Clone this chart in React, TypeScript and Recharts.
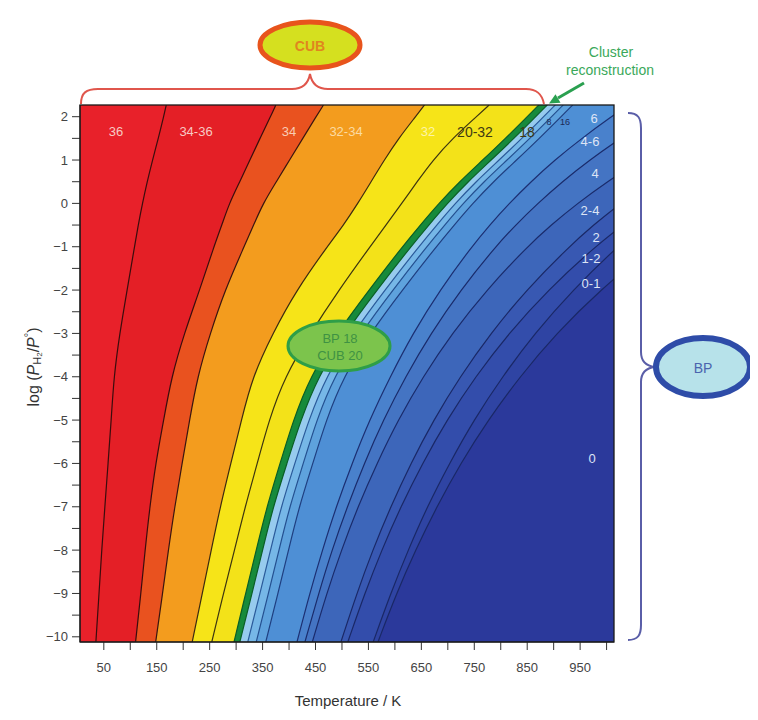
import React from 'react';
import { ComposedChart, Area, XAxis, YAxis, CartesianGrid } from 'recharts';

// rows: log(P_H2/P°)
const LOG_P = [2.27, 2, 1.5, 1, 0.5, 0, -0.5, -1, -2, -3, -4, -5, -6, -7, -8, -9, -10.12];

// phase boundary temperatures (K) read at each LOG_P row, from left to right
const T_36_3436 = [168, 163, 153, 142, 132, 123, 115, 108, 94, 80, 69, 64, 58, 52, 46, 41, 35];
const T_3436_34 = [375, 365, 345, 326, 307, 287, 273, 258, 231, 202, 178, 163, 148, 137, 128, 120, 110];
const T_34_3234 = [465, 451, 426, 401, 376, 351, 333, 315, 279, 251, 227, 212, 198, 184, 172, 161, 148];
const T_3234_32 = [656, 639, 607, 580, 555, 530, 503, 472, 414, 369, 331, 310, 290, 270, 253, 236, 217];
const T_32_2032 = [778, 754, 709, 672, 642, 613, 583, 553, 494, 440, 392, 362, 340, 317, 297, 276, 254];
const T_18_GREEN = [872, 850, 809, 766, 722, 683, 648, 614, 551, 490, 440, 408, 383, 358, 338, 318, 296];
const T_GREEN_16 = [888, 866, 825, 782, 738, 699, 664, 630, 566, 505, 455, 422, 396, 370, 350, 330, 307];
const T_16_12 = [903, 881, 840, 797, 753, 714, 679, 645, 581, 520, 470, 437, 411, 385, 365, 345, 322];
const T_12_8 = [918, 896, 855, 812, 768, 729, 694, 660, 596, 535, 485, 452, 427, 401, 381, 361, 338];
const T_8_6 = [936, 914, 873, 830, 786, 747, 712, 678, 614, 553, 503, 470, 445, 419, 399, 379, 356];
const T_6_46 = [1042, 1009, 953, 902, 857, 816, 779, 745, 685, 634, 591, 552, 519, 489, 463, 439, 415];
const T_46_4 = [1129, 1091, 1026, 968, 916, 870, 828, 790, 724, 668, 620, 578, 542, 510, 481, 456, 430];
const T_4_24 = [1266, 1217, 1135, 1064, 1001, 945, 895, 850, 773, 708, 653, 606, 566, 530, 499, 471, 444];
const T_24_2 = [1346, 1298, 1217, 1146, 1083, 1026, 975, 929, 848, 781, 723, 673, 630, 592, 558, 528, 498];
const T_2_12 = [1455, 1398, 1305, 1223, 1151, 1087, 1030, 978, 889, 815, 752, 698, 652, 611, 575, 543, 511];
const T_12_01 = [1475, 1420, 1319, 1246, 1181, 1122, 1069, 1020, 936, 864, 803, 749, 703, 661, 625, 592, 559];
const T_01_0 = [1614, 1552, 1448, 1358, 1278, 1207, 1143, 1086, 988, 905, 836, 776, 724, 679, 639, 603, 568];

const T_TICKS = [50, 100, 150, 200, 250, 300, 350, 400, 450, 500, 550, 600, 650, 700, 750, 800, 850, 900, 950, 1000];
const T_LABELLED = [50, 150, 250, 350, 450, 550, 650, 750, 850, 950];
const LOGP_TICKS = [-10, -9.5, -9, -8.5, -8, -7.5, -7, -6.5, -6, -5.5, -5, -4.5, -4, -3.5, -3, -2.5, -2, -1.5, -1, -0.5, 0, 0.5, 1, 1.5, 2];

const BOUNDARIES: { key: string; values: number[] }[] = [
  { key: 'b01_0', values: T_01_0 },
  { key: 'b12_01', values: T_12_01 },
  { key: 'b2_12', values: T_2_12 },
  { key: 'b24_2', values: T_24_2 },
  { key: 'b4_24', values: T_4_24 },
  { key: 'b46_4', values: T_46_4 },
  { key: 'b6_46', values: T_6_46 },
  { key: 'b8_6', values: T_8_6 },
  { key: 'b12_8', values: T_12_8 },
  { key: 'b16_12', values: T_16_12 },
  { key: 'bG_16', values: T_GREEN_16 },
  { key: 'b18_G', values: T_18_GREEN },
  { key: 'b32_2032', values: T_32_2032 },
  { key: 'b3234_32', values: T_3234_32 },
  { key: 'b34_3234', values: T_34_3234 },
  { key: 'b3436_34', values: T_3436_34 },
  { key: 'b36_3436', values: T_36_3436 },
];

// fill = colour of the region on the left of each boundary
const STYLE: Record<string, { fill: string; stroke: string }> = {
  b01_0: { fill: '#2f44a3', stroke: '#1a2866' },
  b12_01: { fill: '#334dab', stroke: '#1a2866' },
  b2_12: { fill: '#3858b2', stroke: '#1a2866' },
  b24_2: { fill: '#3d66ba', stroke: '#1a2866' },
  b4_24: { fill: '#4474c3', stroke: '#1a2b6b' },
  b46_4: { fill: '#4981cc', stroke: '#1a2b6b' },
  b6_46: { fill: '#4e8fd5', stroke: '#1c2f72' },
  b8_6: { fill: '#5ea2dd', stroke: '#1f3f80' },
  b12_8: { fill: '#76b7e7', stroke: '#245090' },
  b16_12: { fill: '#97cbee', stroke: '#2a5a9a' },
  bG_16: { fill: '#168a3b', stroke: '#0b5e26' },
  b18_G: { fill: '#f3e219', stroke: '#0b5e26' },
  b32_2032: { fill: '#f6e418', stroke: '#3c3510' },
  b3234_32: { fill: '#f39c1e', stroke: '#3c2a10' },
  b34_3234: { fill: '#e9521f', stroke: '#3a1510' },
  b3436_34: { fill: '#e41f26', stroke: '#3a0d0d' },
  b36_3436: { fill: '#e8212a', stroke: '#3a0d0d' },
};

const rows = LOG_P.map((logP, i) => {
  const r: Record<string, number> = { logP };
  BOUNDARIES.forEach((b) => {
    r[b.key] = b.values[i];
  });
  return r;
});

const FONT = '"Liberation Sans", Arial, sans-serif';

const REGION_LABELS: { text: string; x: number; y: number; fill: string; size?: number }[] = [
  { text: '36', x: 116, y: 131, fill: '#f7c9c3' },
  { text: '34-36', x: 196, y: 131, fill: '#f7c9c3' },
  { text: '34', x: 289, y: 131, fill: '#f8ccb4' },
  { text: '32-34', x: 346, y: 131, fill: '#fbdba2' },
  { text: '32', x: 428, y: 131, fill: '#fdf4a6' },
  { text: '20-32', x: 475, y: 132, fill: '#3f3a12', size: 14 },
  { text: '18', x: 527, y: 132, fill: '#3f3a12', size: 14 },
  { text: '8', x: 549, y: 122, fill: '#1d2a55', size: 9 },
  { text: '16', x: 565, y: 122, fill: '#1d2a55', size: 9 },
  { text: '6', x: 594, y: 118, fill: '#dde4f5' },
  { text: '4-6', x: 590, y: 141, fill: '#dde4f5' },
  { text: '4', x: 595, y: 173, fill: '#dde4f5' },
  { text: '2-4', x: 590, y: 210, fill: '#dde4f5' },
  { text: '2', x: 596, y: 237, fill: '#dde4f5' },
  { text: '1-2', x: 591, y: 258, fill: '#dde4f5' },
  { text: '0-1', x: 591, y: 283, fill: '#dde4f5' },
  { text: '0', x: 592, y: 458, fill: '#dde4f5' },
];

const fmtT = (v: number) => (T_LABELLED.includes(v) ? String(v) : '');
const fmtP = (v: number) => (Number.isInteger(v) ? (v < 0 ? '\u2212' + Math.abs(v) : String(v)) : '');

export default function App() {
  return (
    <div style={{ position: 'relative', width: 750, height: 712 }}>
      <ComposedChart
        width={750}
        height={712}
        layout="vertical"
        data={rows}
        margin={{ top: 97, right: 144, bottom: 48, left: 32 }}
      >
        <CartesianGrid horizontal={false} vertical={false} fill="#2b399b" fillOpacity={1} />
        <XAxis
          type="number"
          domain={[5, 1014]}
          allowDataOverflow
          ticks={T_TICKS}
          tickFormatter={fmtT}
          interval={0}
          height={30}
          tickSize={8}
          tickMargin={13}
          axisLine={{ stroke: '#222' }}
          tickLine={{ stroke: '#333' }}
          tick={{ fontSize: 13, fill: '#444', fontFamily: FONT }}
        />
        <YAxis
          type="number"
          dataKey="logP"
          domain={[-10.12, 2.27]}
          reversed
          allowDataOverflow
          ticks={LOGP_TICKS}
          tickFormatter={fmtP}
          interval={0}
          width={40}
          tickSize={8}
          tickMargin={4}
          axisLine={{ stroke: '#222' }}
          tickLine={{ stroke: '#333' }}
          tick={{ fontSize: 13, fill: '#444', fontFamily: FONT }}
        />
        {BOUNDARIES.map((b) => (
          <Area
            key={b.key}
            dataKey={b.key}
            type="basis"
            baseValue="dataMin"
            fill={STYLE[b.key].fill}
            fillOpacity={1}
            stroke={STYLE[b.key].stroke}
            strokeWidth={1.2}
            dot={false}
            activeDot={false}
            isAnimationActive={false}
          />
        ))}
      </ComposedChart>
      <svg
        width={750}
        height={712}
        style={{ position: 'absolute', left: 0, top: 0, pointerEvents: 'none' }}
      >
        <g transform="translate(-8,-8)" fontFamily={FONT}>
          <rect x={80} y={105} width={534} height={537} fill="none" stroke="#1a1a1a" strokeWidth={1.3} />
          {REGION_LABELS.map((l) => (
            <text
              key={l.text + l.x}
              x={l.x}
              y={l.y}
              textAnchor="middle"
              dominantBaseline="central"
              fontSize={l.size ?? 13}
              fill={l.fill}
            >
              {l.text}
            </text>
          ))}
          {/* CUB brace + ellipse */}
          <path
            d="M 81 104 C 81 93, 86 89, 98 89 L 292 89 C 302 89, 308 85, 310 74 C 312 85, 318 89, 328 89 L 526 89 C 537 89, 542 94, 544 104"
            fill="none"
            stroke="#e0564c"
            strokeWidth={2}
          />
          <ellipse cx={310} cy={45} rx={50} ry={23} fill="#d5e01f" stroke="#e8541c" strokeWidth={5} />
          <text x={310} y={46} textAnchor="middle" dominantBaseline="central" fontSize={14} fontWeight="bold" fill="#e0861e">
            CUB
          </text>
          {/* cluster reconstruction */}
          <text x={611} y={52} textAnchor="middle" dominantBaseline="central" fontSize={14} fill="#3aa85a">
            Cluster
          </text>
          <text x={610} y={70} textAnchor="middle" dominantBaseline="central" fontSize={14} fill="#3aa85a">
            reconstruction
          </text>
          <line x1={584} y1={83} x2={558} y2={98} stroke="#2aa050" strokeWidth={3} />
          <polygon points="549,103.5 560.5,102.8 555.5,94.2" fill="#2aa050" />
          {/* BP brace + ellipse */}
          <path
            d="M 628 113 C 638 113, 641 118, 641 128 L 641 352 C 641 361, 646 366, 655 367 C 646 368, 641 373, 641 382 L 641 625 C 641 635, 638 640, 628 640"
            fill="none"
            stroke="#5a5ea8"
            strokeWidth={2}
          />
          <ellipse cx={703} cy={367} rx={47} ry={29} fill="#b7e2ea" stroke="#2e4ca8" strokeWidth={6} />
          <text x={703} y={368} textAnchor="middle" dominantBaseline="central" fontSize={14} fill="#4a64ae">
            BP
          </text>
          {/* BP 18 / CUB 20 */}
          <ellipse cx={339} cy={346} rx={51} ry={25} fill="#7cc44c" stroke="#2e9e48" strokeWidth={3} />
          <text x={340} y={338} textAnchor="middle" dominantBaseline="central" fontSize={13} fill="#3f9243">
            BP  18
          </text>
          <text x={340} y={355} textAnchor="middle" dominantBaseline="central" fontSize={13} fill="#3f9243">
            CUB  20
          </text>
          {/* axis titles */}
          <text x={348} y={700} textAnchor="middle" dominantBaseline="central" fontSize={15} fill="#333">
            Temperature / K
          </text>
          <text
            x={33}
            y={367}
            transform="rotate(-90 33 367)"
            textAnchor="middle"
            dominantBaseline="central"
            fontSize={16}
            fill="#333"
          >
            log (<tspan fontStyle="italic">P</tspan>
            <tspan fontSize={11} dy={4}>H</tspan>
            <tspan fontSize={8} dy={2}>2</tspan>
            <tspan dy={-6}>/</tspan>
            <tspan fontStyle="italic">P</tspan>
            <tspan fontSize={11} dy={-5}>°</tspan>
            <tspan dy={5}>)</tspan>
          </text>
        </g>
      </svg>
    </div>
  );
}
